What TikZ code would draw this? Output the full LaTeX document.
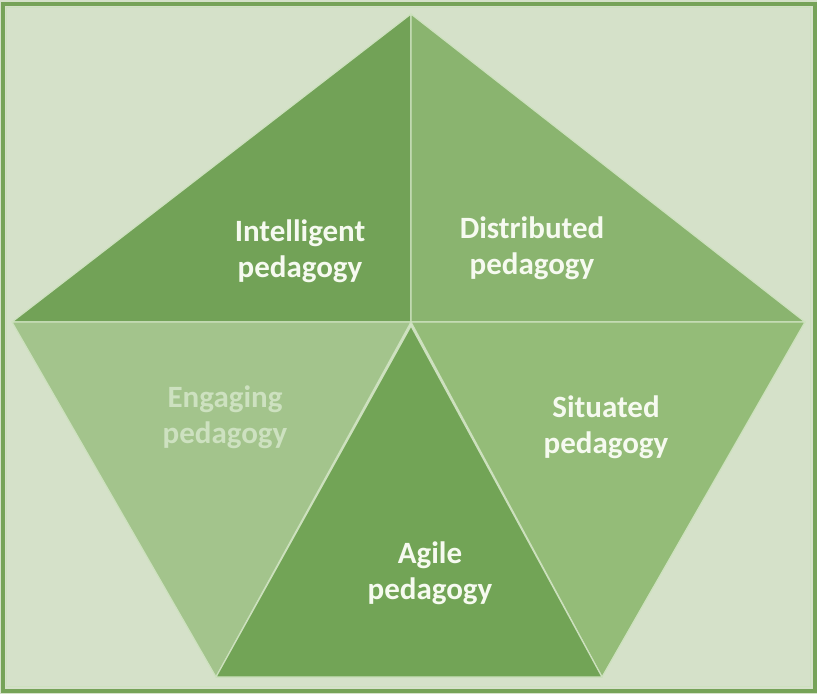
\documentclass[tikz,border=0pt]{standalone}
\usepackage{fontspec}
\setmainfont{Carlito}
\definecolor{bgcol}{RGB}{213, 225, 201}
\definecolor{framecol}{RGB}{118, 163, 88}
\definecolor{edgecol}{RGB}{205, 225, 190}
\definecolor{intelcol}{RGB}{114, 162, 87}
\definecolor{distcol}{RGB}{138, 180, 111}
\definecolor{engcol}{RGB}{163, 196, 140}
\definecolor{sitcol}{RGB}{148, 188, 120}
\definecolor{agilecol}{RGB}{114, 164, 86}
\definecolor{textcol}{RGB}{246, 250, 240}
\definecolor{paletext}{RGB}{205, 225, 192}

\begin{document}
\begin{tikzpicture}[
    x=1pt, y=-1pt,
    facet/.style={draw=edgecol, line width=1.2pt, line join=round},
    label/.style={font=\bfseries\fontsize{31}{36}\selectfont, align=center, text=textcol}
]
\useasboundingbox (0,0) rectangle (817,694);

% Background and frame
\fill[bgcol] (0,0) rectangle (817,694);
\draw[framecol, line width=4pt] (2.5,3.5) rectangle (814.5,690.5);
\draw[edgecol, line width=1pt] (6.5,7.5) rectangle (810.5,686.5);

% Pentagon corners
\coordinate (top)    at (411,14);
\coordinate (left)   at (12,322);
\coordinate (right)  at (805,322);
\coordinate (botl)   at (216,677);
\coordinate (botr)   at (602,677);
\coordinate (centre) at (411,322);
\coordinate (apex)   at (411,326);

% Five facets
\filldraw[facet, fill=intelcol] (top) -- (left) -- (centre) -- cycle;
\filldraw[facet, fill=distcol]  (top) -- (centre) -- (right) -- cycle;
\filldraw[facet, fill=engcol]   (left) -- (centre) -- (botl) -- cycle;
\filldraw[facet, fill=sitcol]   (centre) -- (right) -- (botr) -- cycle;
\filldraw[facet, fill=agilecol] (apex) -- (botl) -- (botr) -- cycle;

% Labels
\node[label] (intel) at (300,251) {Intelligent\\pedagogy};
\node[label] (dist)  at (532,248) {Distributed\\pedagogy};
\node[label, text=paletext] (eng) at (225,417) {Engaging\\pedagogy};
\node[label] (sit)   at (606,427) {Situated\\pedagogy};
\node[label] (agile) at (430,573) {Agile\\pedagogy};

\end{tikzpicture}
\end{document}
